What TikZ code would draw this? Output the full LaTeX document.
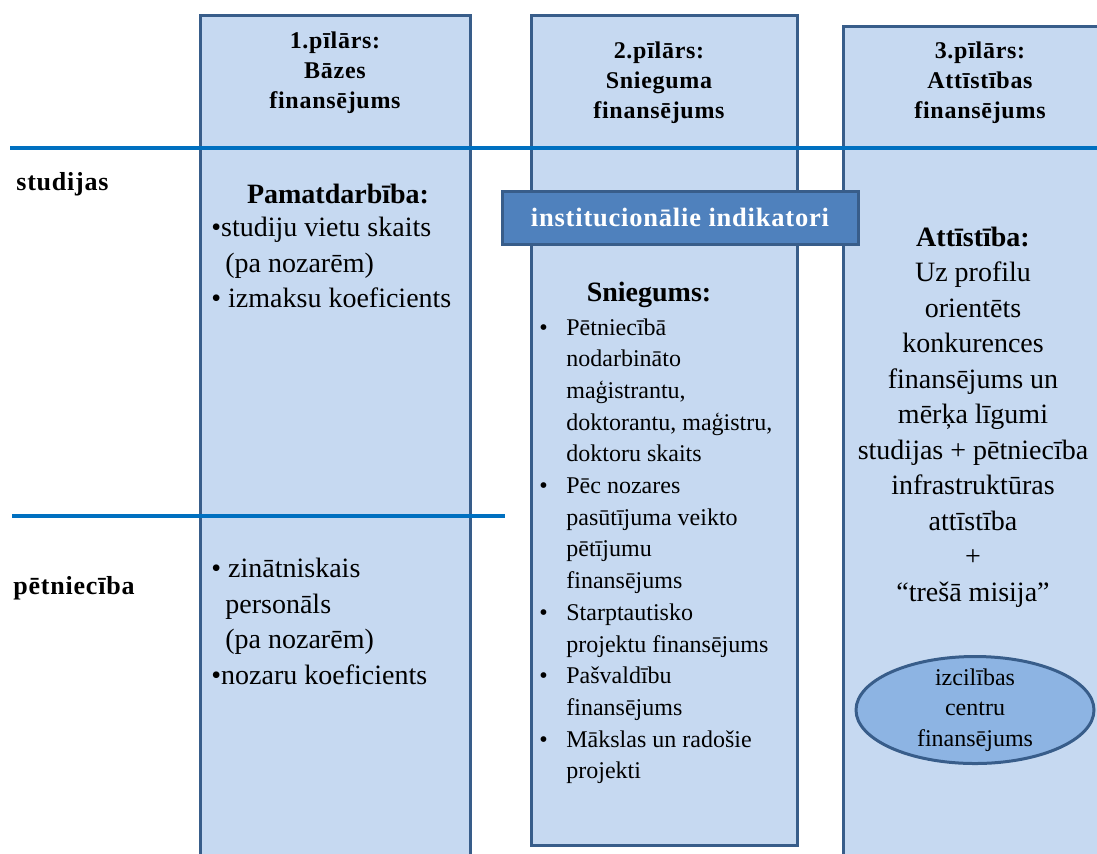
\documentclass[tikz,border=0pt]{standalone}
\usepackage{fontspec}
\setmainfont{Liberation Serif}
\newfontfamily\spaced[LetterSpace=3]{Liberation Serif}
\usepackage{xcolor}
\usetikzlibrary{positioning}
\usetikzlibrary{shapes.geometric}
\definecolor{pillarfill}{RGB}{198,217,241}
\definecolor{pillarline}{RGB}{56,93,138}
\definecolor{rowline}{RGB}{0,112,192}
\definecolor{bannerfill}{RGB}{79,129,189}
\definecolor{ovalfill}{RGB}{141,180,227}
\newcommand{\sbul}{\makebox[13.5pt][l]{•}}
\newcommand{\sind}{\hspace*{13.5pt}}

\begin{document}
\begin{tikzpicture}[x=0.5pt,y=-0.5pt,on grid,every node/.style={inner sep=0pt},
    pillar/.style={draw=pillarline,line width=1.5pt,fill=pillarfill},
    rowsep/.style={draw=rowline,line width=1.6pt},
    head/.style={font=\spaced\bfseries\fontsize{12}{15}\selectfont,align=center},
    rowlab/.style={font=\spaced\bfseries\fontsize{13}{15}\selectfont,anchor=west},
    boldlab/.style={font=\bfseries\fontsize{14}{17}\selectfont},
    biglist/.style={font=\fontsize{14}{17.75}\selectfont,align=left,anchor=north west},
    smalllist/.style={font=\fontsize{12}{15.85}\selectfont,align=left,anchor=north west},
    midtext/.style={font=\fontsize{14}{17.75}\selectfont,align=center},
    banner/.style={draw=pillarline,line width=1.5pt,fill=bannerfill,text=white,
      font=\spaced\bfseries\fontsize{13.25}{15}\selectfont,minimum width=178pt,minimum height=26.5pt},
    oval/.style={ellipse,draw=pillarline,line width=1.5pt,fill=ovalfill,minimum width=119pt,minimum height=53.5pt}]
        \useasboundingbox (0,0) rectangle (1097,853);
        \clip (0,0) rectangle (1097,853);

        \draw[pillar] (200,15) rectangle (470,880);
        \draw[pillar] (531,15) rectangle (797,845);
        \draw[pillar] (843,26) rectangle (1120,880);

        \coordinate (l1a) at (10,148);
        \coordinate (l1b) at (1097,148);
        \coordinate (l2a) at (12,516);
        \coordinate (l2b) at (505,516);
        \draw[rowsep] (l1a) -- (l1b);
        \draw[rowsep] (l2a) -- (l2b);

        \node[head] (head1) at (335,73) {1.pīlārs:\\Bāzes\\finansējums};
        \node[head] (head2) at (659,83) {2.pīlārs:\\Snieguma\\finansējums};
        \node[head] (head3) [right=160.5pt of head2] {3.pīlārs:\\Attīstības\\finansējums};

        \node[rowlab] (stud) at (16,184) {studijas};
        \node[rowlab] (petn) at (13,588) {pētniecība};

        \node[boldlab] (pamat) at (338,194) {Pamatdarbība:};
        \node[biglist] (pamatl) at (211,217) {•studiju vietu skaits\\\hspace*{7pt}(pa nozarēm)\\• izmaksu koeficients};
        \node[biglist] (zinl) at (211,558) {• zinātniskais\\\hspace*{7pt}personāls\\\hspace*{7pt}(pa nozarēm)\\•nozaru koeficients};

        \node[banner] (inst) at (680,217.5) {institucionālie indikatori};

        \node[boldlab] (snieg) at (649,295) {Sniegums:};
        \node[smalllist] (sniegl) at (539,318) {\sbul Pētniecībā\\\sind nodarbināto\\\sind maģistrantu,\\\sind doktorantu, maģistru,\\\sind doktoru skaits\\
          \sbul Pēc nozares\\\sind pasūtījuma veikto\\\sind pētījumu\\\sind finansējums\\
          \sbul Starptautisko\\\sind projektu finansējums\\
          \sbul Pašvaldību\\\sind finansējums\\
          \sbul Mākslas un radošie\\\sind projekti};

        \node[midtext] (attist) at (973,417) {\textbf{Attīstība:}\\Uz profilu\\orientēts\\konkurences\\finansējums un\\mērķa līgumi\\studijas + pētniecība\\infrastruktūras\\attīstība\\+\\“trešā misija”};

        \node[oval] (exc) at (975,710) {};
        \node[font=\fontsize{12}{15.25}\selectfont,align=center] (exctext) at (exc) {izcilības\\centru\\finansējums};

      \end{tikzpicture}
\end{document}
